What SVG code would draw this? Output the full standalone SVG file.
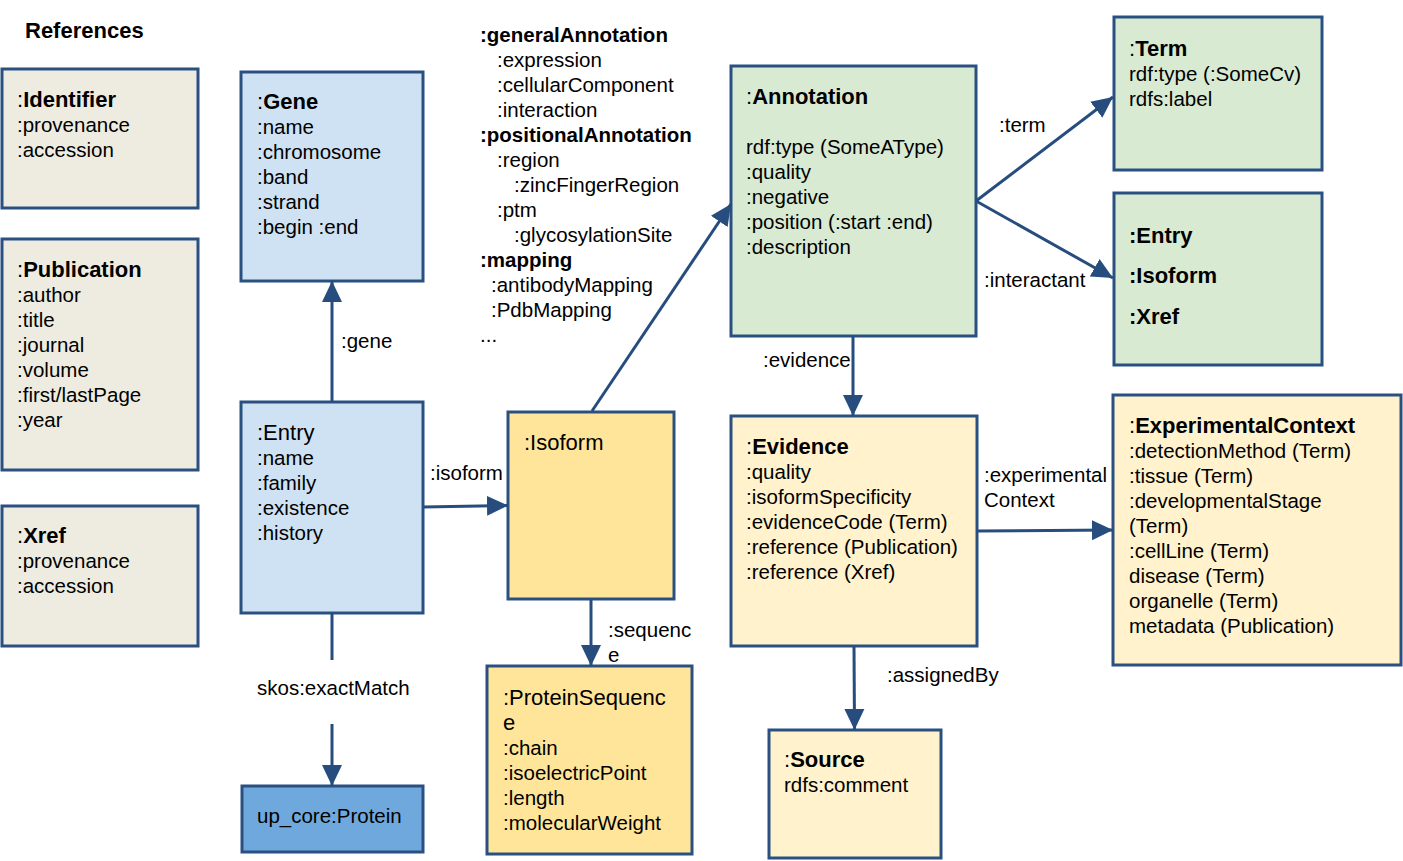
<svg xmlns="http://www.w3.org/2000/svg" width="1403" height="861" viewBox="0 0 1403 861">
<defs>
<marker id="ah" markerUnits="userSpaceOnUse" markerWidth="22" markerHeight="22" viewBox="0 0 22 22" refX="21" refY="11" orient="auto">
<path d="M0,1 L21,11 L0,21 Z" fill="#264d7e"/>
</marker>
<style>
text{font-family:"Liberation Sans",Arial,sans-serif;font-size:20.5px;fill:#000}
.t{font-size:22px}
.b{font-weight:bold}
.box{stroke:#2a5082;stroke-width:3}
.ref{fill:#eeece1}
.blue{fill:#cfe2f3}
.dblue{fill:#6fa8dc}
.yel{fill:#ffe599}
.lyel{fill:#fff2cc}
.grn{fill:#d9ead3}
.c{stroke:#264d7e;stroke-width:3;fill:none}
</style>
</defs>
<rect width="1403" height="861" fill="#fff"/>
<text x="25" y="38" class="b t">References</text>

<g id="identifier">
<rect class="box ref" x="2" y="69" width="196" height="139"/>
<text x="17" y="107" class="t">:<tspan class="b">Identifier</tspan></text>
<text x="17" y="132">:provenance</text>
<text x="17" y="157">:accession</text>
</g>
<g id="publication">
<rect class="box ref" x="2" y="239" width="196" height="231"/>
<text x="17" y="277" class="t">:<tspan class="b">Publication</tspan></text>
<text x="17" y="302">:author</text>
<text x="17" y="327">:title</text>
<text x="17" y="352">:journal</text>
<text x="17" y="377">:volume</text>
<text x="17" y="402">:first/lastPage</text>
<text x="17" y="427">:year</text>
</g>
<g id="xref">
<rect class="box ref" x="2" y="506" width="196" height="140"/>
<text x="17" y="543" class="t">:<tspan class="b">Xref</tspan></text>
<text x="17" y="568">:provenance</text>
<text x="17" y="593">:accession</text>
</g>
<g id="gene">
<rect class="box blue" x="241" y="72" width="182" height="209"/>
<text x="257" y="109" class="t">:<tspan class="b">Gene</tspan></text>
<text x="257" y="134">:name</text>
<text x="257" y="159">:chromosome</text>
<text x="257" y="184">:band</text>
<text x="257" y="209">:strand</text>
<text x="257" y="234">:begin :end</text>
</g>
<g id="entry">
<rect class="box blue" x="241" y="402" width="182" height="211"/>
<text x="257" y="440" class="t">:Entry</text>
<text x="257" y="465">:name</text>
<text x="257" y="490">:family</text>
<text x="257" y="515">:existence</text>
<text x="257" y="540">:history</text>
</g>
<g id="protein">
<rect class="box dblue" x="242" y="786" width="181" height="66"/>
<text x="257" y="823">up_core:Protein</text>
</g>
<g id="annotation-types">
<text x="480" y="42" class="b">:generalAnnotation</text>
<text x="497" y="67">:expression</text>
<text x="497" y="92">:cellularComponent</text>
<text x="497" y="117">:interaction</text>
<text x="480" y="142" class="b">:positionalAnnotation</text>
<text x="497" y="167">:region</text>
<text x="514" y="192">:zincFingerRegion</text>
<text x="497" y="217">:ptm</text>
<text x="514" y="242">:glycosylationSite</text>
<text x="480" y="267" class="b">:mapping</text>
<text x="491" y="292">:antibodyMapping</text>
<text x="491" y="317">:PdbMapping</text>
<text x="480" y="342">...</text>
</g>
<g id="isoform">
<rect class="box yel" x="508" y="412" width="166" height="187"/>
<text x="524" y="450" class="t">:Isoform</text>
</g>
<g id="proteinsequence">
<rect class="box yel" x="487" y="666" width="205" height="188"/>
<text x="503" y="705" class="t">:ProteinSequenc</text>
<text x="503" y="730" class="t">e</text>
<text x="503" y="755">:chain</text>
<text x="503" y="780">:isoelectricPoint</text>
<text x="503" y="805">:length</text>
<text x="503" y="830">:molecularWeight</text>
</g>
<g id="annotation">
<rect class="box grn" x="731" y="66" width="245" height="270"/>
<text x="746" y="104" class="t">:<tspan class="b">Annotation</tspan></text>
<text x="746" y="154">rdf:type (SomeAType)</text>
<text x="746" y="179">:quality</text>
<text x="746" y="204">:negative</text>
<text x="746" y="229">:position (:start :end)</text>
<text x="746" y="254">:description</text>
</g>
<g id="term">
<rect class="box grn" x="1114" y="17" width="208" height="153"/>
<text x="1129" y="56" class="t">:<tspan class="b">Term</tspan></text>
<text x="1129" y="81">rdf:type (:SomeCv)</text>
<text x="1129" y="106">rdfs:label</text>
</g>
<g id="interactants">
<rect class="box grn" x="1114" y="193" width="208" height="172"/>
<text x="1129" y="243" class="b t">:Entry</text>
<text x="1129" y="283" class="b t">:Isoform</text>
<text x="1129" y="324" class="b t">:Xref</text>
</g>
<g id="evidence">
<rect class="box lyel" x="731" y="416" width="246" height="230"/>
<text x="746" y="454" class="t">:<tspan class="b">Evidence</tspan></text>
<text x="746" y="479">:quality</text>
<text x="746" y="504">:isoformSpecificity</text>
<text x="746" y="529">:evidenceCode (Term)</text>
<text x="746" y="554">:reference (Publication)</text>
<text x="746" y="579">:reference (Xref)</text>
</g>
<g id="source">
<rect class="box lyel" x="769" y="730" width="172" height="128"/>
<text x="784" y="767" class="t">:<tspan class="b">Source</tspan></text>
<text x="784" y="792">rdfs:comment</text>
</g>
<g id="experimentalcontext">
<rect class="box lyel" x="1113" y="395" width="288" height="270"/>
<text x="1129" y="433" class="t">:<tspan class="b">ExperimentalContext</tspan></text>
<text x="1129" y="458">:detectionMethod (Term)</text>
<text x="1129" y="483">:tissue (Term)</text>
<text x="1129" y="508">:developmentalStage</text>
<text x="1129" y="533">(Term)</text>
<text x="1129" y="558">:cellLine (Term)</text>
<text x="1129" y="583">disease (Term)</text>
<text x="1129" y="608">organelle (Term)</text>
<text x="1129" y="633">metadata (Publication)</text>
</g>

<g id="connectors">
<line class="c" x1="332" y1="402" x2="332" y2="281" marker-end="url(#ah)"/>
<text x="341" y="348">:gene</text>
<line class="c" x1="332" y1="613" x2="332" y2="660"/>
<line class="c" x1="332" y1="724" x2="332" y2="786" marker-end="url(#ah)"/>
<text x="257" y="695">skos:exactMatch</text>
<line class="c" x1="423" y1="507" x2="508" y2="505.5" marker-end="url(#ah)"/>
<text x="430" y="480">:isoform</text>
<line class="c" x1="591" y1="599" x2="591" y2="666" marker-end="url(#ah)"/>
<text x="608" y="637">:sequenc</text>
<text x="608" y="662">e</text>
<line class="c" x1="592" y1="411" x2="731" y2="204" marker-end="url(#ah)"/>
<line class="c" x1="976" y1="201" x2="1113" y2="97" marker-end="url(#ah)"/>
<text x="999" y="132">:term</text>
<line class="c" x1="976" y1="201" x2="1113" y2="278" marker-end="url(#ah)"/>
<text x="984" y="287">:interactant</text>
<line class="c" x1="853" y1="336" x2="853" y2="416" marker-end="url(#ah)"/>
<text x="763" y="367">:evidence</text>
<line class="c" x1="977" y1="531" x2="1113" y2="530" marker-end="url(#ah)"/>
<text x="984" y="482">:experimental</text>
<text x="984" y="507">Context</text>
<line class="c" x1="854" y1="646" x2="854.5" y2="730" marker-end="url(#ah)"/>
<text x="887" y="682">:assignedBy</text>
</g>
</svg>
